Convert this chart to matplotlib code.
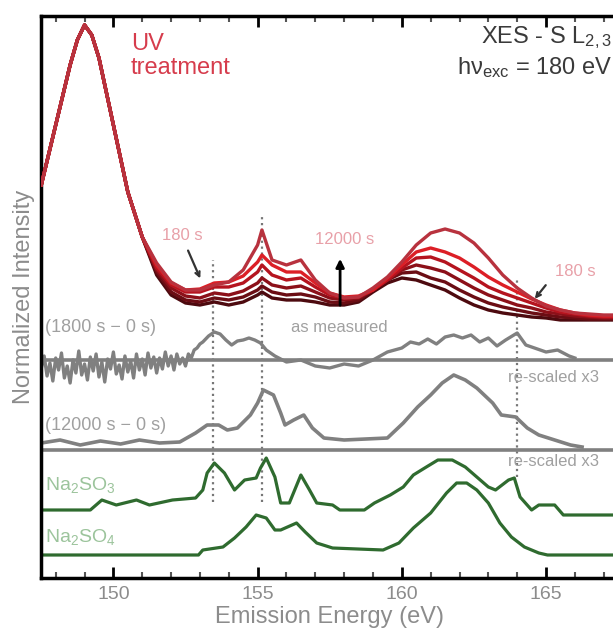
import matplotlib
matplotlib.use('Agg')
import matplotlib.pyplot as plt
from matplotlib.ticker import MultipleLocator

plt.rcParams['font.family'] = ['Liberation Sans', 'DejaVu Sans']
plt.rcParams['mathtext.default'] = 'regular'

# red spectra, UV treatment series (shared energy grid)
e_red = [147.5, 148.0, 148.5, 148.75, 149.0, 149.25, 149.5, 150.0, 150.5, 151.0,
         151.5, 152.0, 152.5, 153.0, 153.5, 154.0, 154.5, 155.0, 155.15, 155.5,
         156.0, 156.5, 157.0, 157.5, 158.0, 158.5, 159.0, 159.5, 160.0, 160.5,
         161.0, 161.5, 162.0, 162.5, 163.0, 163.5, 164.0, 164.5, 165.0, 165.5,
         166.0, 166.5, 167.0, 167.5]
red_head = [3.93, 4.53, 5.13, 5.38, 5.53, 5.43, 5.20, 4.53, 3.86, 3.41]
red_tails = [
    [3.03, 2.83, 2.75, 2.73, 2.76, 2.73, 2.76, 2.83, 2.86, 2.80, 2.78, 2.78, 2.76, 2.73,
     2.73, 2.76, 2.86, 2.95, 3.00, 2.98, 2.93, 2.88, 2.80, 2.73, 2.68, 2.65, 2.63, 2.61,
     2.60, 2.58, 2.58, 2.58, 2.58, 2.58],
    [3.06, 2.86, 2.78, 2.76, 2.80, 2.78, 2.81, 2.88, 2.92, 2.86, 2.83, 2.84, 2.81, 2.76,
     2.75, 2.78, 2.88, 2.98, 3.05, 3.06, 3.00, 2.96, 2.88, 2.81, 2.75, 2.71, 2.68, 2.65,
     2.63, 2.61, 2.60, 2.59, 2.59, 2.59],
    [3.08, 2.90, 2.82, 2.80, 2.85, 2.83, 2.87, 2.95, 3.00, 2.93, 2.90, 2.92, 2.86, 2.80,
     2.78, 2.80, 2.88, 2.98, 3.08, 3.13, 3.10, 3.06, 2.98, 2.90, 2.83, 2.78, 2.73, 2.70,
     2.66, 2.64, 2.62, 2.61, 2.60, 2.60],
    [3.10, 2.93, 2.86, 2.86, 2.91, 2.91, 2.95, 3.06, 3.13, 3.03, 2.98, 3.00, 2.91, 2.83,
     2.80, 2.81, 2.88, 2.98, 3.10, 3.20, 3.21, 3.16, 3.08, 3.00, 2.91, 2.85, 2.80, 2.75,
     2.70, 2.66, 2.64, 2.62, 2.61, 2.61],
    [3.13, 2.95, 2.88, 2.89, 2.95, 2.96, 3.02, 3.16, 3.23, 3.13, 3.06, 3.06, 2.95, 2.85,
     2.81, 2.82, 2.88, 3.00, 3.13, 3.26, 3.30, 3.26, 3.20, 3.11, 3.01, 2.93, 2.86, 2.79,
     2.73, 2.68, 2.65, 2.63, 2.62, 2.62],
    [3.15, 2.96, 2.88, 2.88, 2.93, 2.96, 3.08, 3.33, 3.48, 3.18, 3.13, 3.18, 2.98, 2.85,
     2.80, 2.81, 2.90, 3.01, 3.16, 3.33, 3.45, 3.49, 3.45, 3.35, 3.20, 3.03, 2.90, 2.80,
     2.72, 2.68, 2.65, 2.64, 2.63, 2.63],
]
red_colors = ['#4d0a0f', '#6b0d14', '#8c1019', '#b5141f', '#dc1f26', '#b8323e']

# difference spectrum (1800 s - 0 s), as measured
e_d1 = [147.5, 147.6, 147.7, 147.8, 147.9, 148.0, 148.1, 148.2, 148.3, 148.4,
        148.5, 148.6, 148.7, 148.8, 148.9, 149.0, 149.1, 149.2, 149.3, 149.4,
        149.5, 149.6, 149.7, 149.8, 149.9, 150.0, 150.1, 150.2, 150.3, 150.4,
        150.5, 150.6, 150.7, 150.8, 150.9, 151.0, 151.1, 151.2, 151.3, 151.4,
        151.5, 151.6, 151.7, 151.8, 151.9, 152.0, 152.1, 152.2, 152.3, 152.4,
        152.5, 152.6, 152.7, 152.8, 152.9, 153.0, 153.1, 153.3,
        153.5, 153.7, 153.9, 154.1, 154.3, 154.5, 154.7, 154.9, 155.1, 155.3,
        155.6, 156.0, 156.5, 157.0, 157.5, 158.0, 158.5, 159.0, 159.5, 160.0,
        160.3, 160.6, 160.9, 161.2, 161.5, 161.8, 162.1, 162.4, 162.7, 163.0,
        163.3, 163.6, 164.0, 164.3, 164.6, 165.0, 165.4, 165.8, 166.0]
d1 = [2.10, 2.22, 2.02, 2.15, 1.97, 2.20, 2.08, 2.25, 2.00, 2.12,
      1.95, 2.18, 2.05, 2.27, 2.03, 2.14, 1.98, 2.21, 2.07, 2.24,
      2.01, 2.16, 1.96, 2.19, 2.09, 2.26, 2.04, 2.13, 1.99, 2.22,
      2.06, 2.17, 2.00, 2.24, 2.08, 2.19, 2.03, 2.25, 2.10, 2.21,
      2.05, 2.20, 2.09, 2.26, 2.12, 2.22, 2.08, 2.24, 2.14, 2.20,
      2.12, 2.24, 2.20, 2.28, 2.30, 2.34, 2.36, 2.42,
      2.46, 2.44, 2.38, 2.33, 2.37, 2.38, 2.40, 2.38, 2.35, 2.28,
      2.22, 2.16, 2.18, 2.12, 2.10, 2.14, 2.12, 2.18, 2.26, 2.30,
      2.36, 2.34, 2.39, 2.34, 2.41, 2.43, 2.40, 2.43, 2.36, 2.40,
      2.32, 2.38, 2.45, 2.33, 2.30, 2.26, 2.28, 2.22, 2.20]
d1_zero = 2.18

# difference spectrum (12000 s - 0 s)
e_d2 = [147.5, 148.15, 148.85, 149.55, 150.25, 150.9, 151.6, 152.3, 152.85, 153.25,
        153.65, 153.95, 154.3, 154.75, 155.0, 155.2, 155.55, 155.8, 155.95, 156.25,
        156.6, 156.9, 157.3, 158.0, 159.5, 160.05, 160.55, 161.0, 161.4, 161.8,
        162.2, 162.6, 163.15, 163.45, 163.95, 164.35, 164.75, 165.3, 165.85, 166.25]
d2 = [1.35, 1.38, 1.33, 1.37, 1.34, 1.38, 1.35, 1.36, 1.45, 1.53,
      1.53, 1.48, 1.50, 1.63, 1.75, 1.88, 1.83, 1.65, 1.53, 1.58,
      1.63, 1.50, 1.40, 1.38, 1.40, 1.55, 1.71, 1.83, 1.95, 2.03,
      1.98, 1.90, 1.75, 1.63, 1.61, 1.50, 1.43, 1.38, 1.33, 1.31]
d2_zero = 1.28

# reference compounds
e_ref1 = [147.5, 149.2, 149.6, 150.1, 150.8, 151.25, 152.05, 152.85, 153.1, 153.25,
          153.5, 153.85, 154.2, 154.55, 154.95, 155.1, 155.3, 155.6, 155.8, 156.1,
          156.5, 156.8, 157.05, 157.6, 157.85, 158.7, 159.05, 159.6, 160.05, 160.4,
          160.85, 161.25, 161.75, 162.2, 162.6, 163.0, 163.25, 163.7, 163.9, 164.1,
          164.5, 164.75, 165.3, 165.6, 167.5]
ref1 = [0.68, 0.68, 0.78, 0.73, 0.78, 0.73, 0.78, 0.80, 0.88, 1.05,
        1.15, 1.05, 0.88, 0.98, 1.00, 1.10, 1.20, 1.01, 0.75, 0.75,
        1.03, 0.88, 0.75, 0.73, 0.68, 0.68, 0.75, 0.83, 0.91, 1.03,
        1.11, 1.18, 1.18, 1.11, 1.01, 0.91, 0.88, 0.98, 1.00, 0.81,
        0.68, 0.73, 0.73, 0.63, 0.63]
e_ref2 = [147.5, 152.95, 153.1, 153.8, 154.2, 154.6, 154.95, 155.3, 155.6, 155.8,
          156.35, 156.65, 157.05, 157.6, 159.35, 159.9, 160.4, 161.0, 161.55, 161.9,
          162.25, 162.6, 163.0, 163.4, 163.8, 164.25, 164.75, 165.05, 167.5]
ref2 = [0.23, 0.23, 0.28, 0.31, 0.40, 0.51, 0.63, 0.60, 0.48, 0.48,
        0.55, 0.46, 0.35, 0.30, 0.28, 0.35, 0.50, 0.65, 0.85, 0.95,
        0.95, 0.88, 0.75, 0.55, 0.41, 0.31, 0.25, 0.23, 0.23]

# dotted guide lines: energy, top, bottom
guide_e = [153.45, 155.15, 164.0]
guide_top = [3.18, 3.63, 3.00]
guide_bot = [0.76, 0.76, 1.01]

fig = plt.figure(figsize=(6.13, 6.30), dpi=100)
ax = fig.add_axes([41 / 613, 52 / 630, 578 / 613, 562 / 630])

for i in range(len(guide_e)):
    ax.plot([guide_e[i], guide_e[i]], [guide_bot[i], guide_top[i]], ':', color='#777777', lw=1.6, zorder=1)

ax.axhline(d1_zero, color='#808080', lw=2.6, zorder=2)
ax.axhline(d2_zero, color='#808080', lw=2.6, zorder=2)
ax.plot(e_d1, d1, color='#808080', lw=2.4, zorder=2)
ax.plot(e_d2, d2, color='#808080', lw=2.6, zorder=2)

ax.plot(e_ref1, ref1, color='#2f6b2f', lw=2.3, zorder=2)
ax.plot(e_ref2, ref2, color='#2f6b2f', lw=2.3, zorder=2)

for i in range(len(red_tails)):
    ax.plot(e_red, red_head + red_tails[i], color=red_colors[i], lw=2.4, zorder=3)

# arrows
ax.annotate('', xy=(157.86, 3.22), xytext=(157.86, 2.70),
            arrowprops=dict(arrowstyle='-|>', color='black', lw=2, mutation_scale=12), zorder=5)
ax.annotate('', xy=(153.05, 2.97), xytext=(152.55, 3.30),
            arrowprops=dict(arrowstyle='->', color='#333333', lw=1.6, mutation_scale=8), zorder=5)
ax.annotate('', xy=(164.55, 2.77), xytext=(165.05, 2.95),
            arrowprops=dict(arrowstyle='->', color='#333333', lw=1.6, mutation_scale=8), zorder=5)

lab_red = '#e8a0a8'
ax.text(152.38, 3.42, '180 s', color=lab_red, fontsize=12, ha='center', va='center')
ax.text(158.03, 3.38, '12000 s', color=lab_red, fontsize=12, ha='center', va='center')
ax.text(166.0, 3.06, '180 s', color=lab_red, fontsize=12, ha='center', va='center')

ax.text(150.6, 5.45, 'UV\ntreatment', color='#d63c4c', fontsize=17, ha='left', va='top',
        linespacing=1.1)
# right-aligned just inside the figure edge
ax.text(0.988, 5.40, 'XES - S L$_{2,3}$', color='#3a3a3a', fontsize=17, ha='right', va='center',
        transform=ax.get_yaxis_transform())
ax.text(0.988, 5.10, 'h\u03bd$_{exc}$ = 180 eV', color='#3a3a3a', fontsize=17, ha='right', va='center',
        transform=ax.get_yaxis_transform())

lab_gray = '#a0a0a0'
ax.text(147.63, 2.50, '(1800 s \u2212 0 s)', color=lab_gray, fontsize=13, ha='left', va='center')
ax.text(157.83, 2.51, 'as measured', color=lab_gray, fontsize=12, ha='center', va='center')
ax.text(163.68, 2.00, 're-scaled x3', color=lab_gray, fontsize=12, ha='left', va='center')
ax.text(147.63, 1.53, '(12000 s \u2212 0 s)', color=lab_gray, fontsize=13, ha='left', va='center')
ax.text(163.68, 1.16, 're-scaled x3', color=lab_gray, fontsize=12, ha='left', va='center')

lab_green = '#9cc49c'
ax.text(147.63, 0.93, 'Na$_2$SO$_3$', color=lab_green, fontsize=14, ha='left', va='center')
ax.text(147.63, 0.41, 'Na$_2$SO$_4$', color=lab_green, fontsize=14, ha='left', va='center')

ax.set_xlim(147.49, 167.53)
ax.set_ylim(0, 5.62)
ax.set_yticks([])
ax.xaxis.set_major_locator(MultipleLocator(5))
ax.xaxis.set_minor_locator(MultipleLocator(1))
ax.tick_params(axis='x', which='both', direction='in', top=True, labelcolor='#8c8c8c', labelsize=14)
ax.tick_params(axis='x', which='major', length=8, width=2, color='black', pad=6)
ax.tick_params(axis='x', which='minor', length=4, width=1.5, color='#555555')
for s in ax.spines.values():
    s.set_linewidth(2.5)

ax.set_xlabel('Emission Energy (eV)', color='#8c8c8c', fontsize=17, labelpad=2)
ax.set_ylabel('Normalized Intensity', color='#8c8c8c', fontsize=17, labelpad=4)

fig.savefig('out.png', dpi=100)
